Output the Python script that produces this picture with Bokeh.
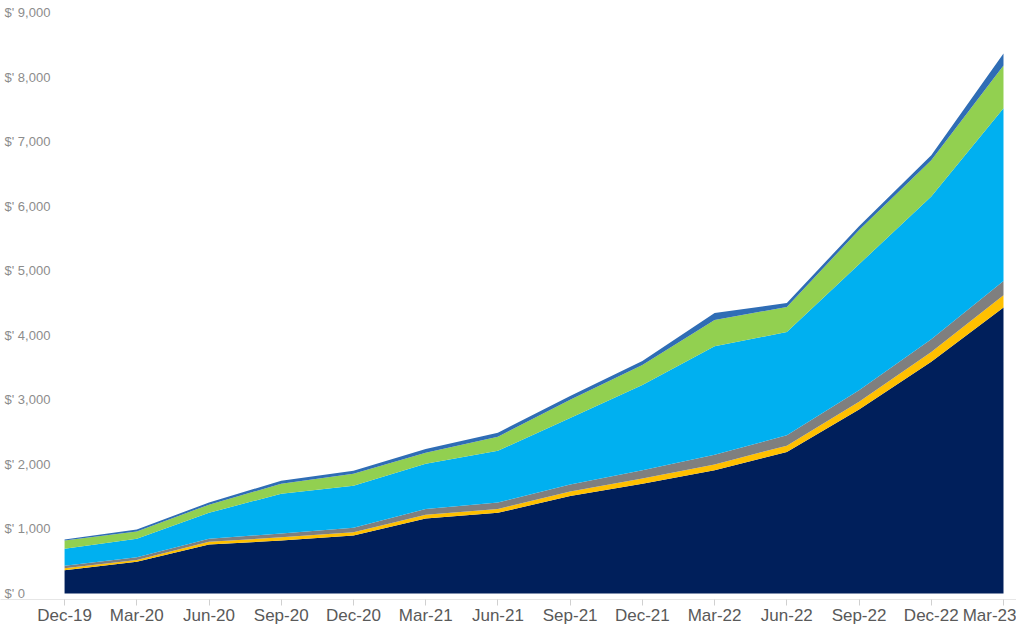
from bokeh.plotting import figure
from bokeh.models import ColumnDataSource, FixedTicker, Range1d, Label
from bokeh.embed import file_html
from bokeh.resources import INLINE

quarters = ["Dec-19", "Mar-20", "Jun-20", "Sep-20", "Dec-20", "Mar-21", "Jun-21",
            "Sep-21", "Dec-21", "Mar-22", "Jun-22", "Sep-22", "Dec-22", "Mar-23"]

navy = [360, 490, 760, 820, 900, 1160, 1250, 1510, 1700, 1910, 2190, 2850, 3590, 4430]
yellow = [30, 30, 40, 50, 50, 60, 60, 70, 80, 90, 100, 120, 150, 190]
grey = [40, 40, 50, 60, 70, 90, 100, 110, 130, 150, 160, 180, 200, 220]
light_blue = [265, 290, 400, 616, 650, 700, 800, 1030, 1320, 1680, 1600, 1950, 2210, 2675]
green = [125, 110, 126, 154, 185, 170, 220, 280, 310, 407, 390, 530, 560, 665]
top_blue = [15, 30, 34, 47, 45, 60, 60, 60, 60, 108, 60, 60, 80, 185]

y_ticks = [0, 1000, 2000, 3000, 4000, 5000, 6000, 7000, 8000, 9000]
y_labels = ["$' 0", "$' 1,000", "$' 2,000", "$' 3,000", "$' 4,000",
            "$' 5,000", "$' 6,000", "$' 7,000", "$' 8,000", "$' 9,000"]

names = ["navy", "yellow", "grey", "light_blue", "green", "top_blue"]
colors = ["#001f5b", "#ffc000", "#7f7f7f", "#00b0f0", "#92d050", "#2f6db5"]

xs = list(range(len(quarters)))
src = ColumnDataSource(dict(x=xs, navy=navy, yellow=yellow, grey=grey,
                            light_blue=light_blue, green=green, top_blue=top_blue))

x_start = -0.887
p = figure(width=1016, height=627, output_backend="svg", toolbar_location=None,
           x_range=Range1d(x_start, 13.18), y_range=Range1d(-93, 9186),
           min_border_left=0, min_border_right=0, min_border_top=0, min_border_bottom=0)

p.varea_stack(stackers=names, x="x", color=colors, source=src)

for v, t in zip(y_ticks, y_labels):
    p.add_layout(Label(x=x_start, y=v, text=t, x_offset=4, text_align="left",
                       text_baseline="middle", text_font="Liberation Sans",
                       text_font_size="13px", text_color="#8c8c8c"))

p.yaxis.visible = False
p.xgrid.visible = False
p.ygrid.visible = False
p.outline_line_color = None

xa = p.xaxis[0]
xa.ticker = FixedTicker(ticks=xs)
xa.major_label_overrides = {i: q for i, q in enumerate(quarters)}
xa.axis_line_color = "#e6e6e6"
xa.major_tick_line_color = "#d0d0d0"
xa.major_tick_in = 0
xa.major_tick_out = 6
xa.minor_tick_line_color = None
xa.major_label_standoff = 0
xa.major_label_text_font = "Liberation Sans"
xa.major_label_text_font_size = "17px"
xa.major_label_text_color = "#595959"

open("out.html", "w").write(file_html(p, INLINE))
